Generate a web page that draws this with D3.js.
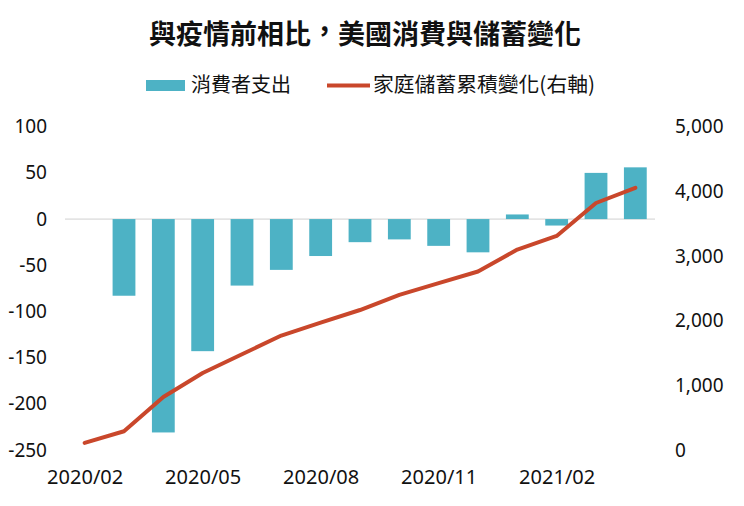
<!DOCTYPE html>
<html>
<head>
<meta charset="utf-8">
<script src="https://cdn.jsdelivr.net/npm/d3@7"></script>
<style>
  html, body { margin: 0; padding: 0; background: #fff; }
  svg { display: block; }
  text { font-family: "Noto Sans CJK TC", "Noto Sans", sans-serif; fill: #111; }
</style>
</head>
<body>
<svg id="chart" width="744" height="506"></svg>
<script>
const titleParts = ["與疫情前相比", "，", "美國消費與儲蓄變化"];
const categories = ["2020/02","2020/03","2020/04","2020/05","2020/06","2020/07","2020/08","2020/09","2020/10","2020/11","2020/12","2021/01","2021/02","2021/03","2021/04"];
const spending = [null, -83, -231, -143, -72, -55, -40, -25, -22, -29, -36, 5, -7, 50, 56];
const savings = [110, 290, 820, 1190, 1480, 1770, 1970, 2165, 2400, 2580, 2760, 3100, 3310, 3820, 4055];
const xTickLabels = ["2020/02","2020/05","2020/08","2020/11","2021/02"];
const leftTicks = [100, 50, 0, -50, -100, -150, -200, -250];
const rightTicks = [0, 1000, 2000, 3000, 4000, 5000];
const seriesNames = ["消費者支出", "家庭儲蓄累積變化(右軸)"];

const barColor = "#4db2c5";
const lineColor = "#c9472b";

const svg = d3.select("#chart");
const plot = { left: 65, right: 655, top: 126.7, bottom: 450 };

const x = d3.scalePoint().domain(categories).range([plot.left, plot.right]).padding(0.5);
const step = x.step();
const barW = step * 0.58;
const yL = d3.scaleLinear().domain([-250, 100]).range([plot.bottom, plot.top]);
const yR = d3.scaleLinear().domain([0, 5000]).range([plot.bottom, plot.top]);

// Title
const t = svg.append("text").attr("x", 365).attr("y", 44).attr("text-anchor", "middle")
  .style("font-size", "27px").style("font-weight", "bold");
t.append("tspan").text(titleParts[0]);
t.append("tspan").attr("dy", -3).text(titleParts[1]);
t.append("tspan").attr("dy", 3).text(titleParts[2]);

// Legend
const lg = svg.append("g");
lg.append("rect").attr("x", 146).attr("y", 80).attr("width", 39).attr("height", 11).attr("fill", barColor);
lg.append("text").attr("x", 191).attr("y", 92).style("font-size", "20px").text(seriesNames[0]);
lg.append("line").attr("x1", 327).attr("x2", 370).attr("y1", 85.5).attr("y2", 85.5)
  .attr("stroke", lineColor).attr("stroke-width", 4);
lg.append("text").attr("x", 373).attr("y", 92).style("font-size", "20.8px").text(seriesNames[1]);

// Zero line
svg.append("line").attr("x1", plot.left).attr("x2", plot.right)
  .attr("y1", yL(0)).attr("y2", yL(0)).attr("stroke", "#d0d0d0").attr("stroke-width", 1);

// Bars
svg.append("g").selectAll("rect")
  .data(categories.map((c, i) => ({ c, v: spending[i] })).filter(d => d.v != null))
  .join("rect")
  .attr("x", d => x(d.c) - barW / 2)
  .attr("width", barW)
  .attr("y", d => Math.min(yL(d.v), yL(0)))
  .attr("height", d => Math.abs(yL(d.v) - yL(0)))
  .attr("fill", barColor);

// Line
const line = d3.line().x((d, i) => x(categories[i])).y(d => yR(d));
svg.append("path").datum(savings).attr("d", line)
  .attr("fill", "none").attr("stroke", lineColor).attr("stroke-width", 4)
  .attr("stroke-linejoin", "round").attr("stroke-linecap", "round");

// Left axis labels (plain hyphen minus)
const axL = d3.axisLeft(yL).tickValues(leftTicks).tickSize(0).tickPadding(0).tickFormat(d => String(d));
const gL = svg.append("g").attr("transform", "translate(47,0)").call(axL);
gL.select(".domain").remove();
gL.selectAll("text").style("font-size", "19px").attr("fill", "#111")
  .style("font-family", "'Noto Sans', sans-serif");

// Right axis labels
const axR = d3.axisRight(yR).tickValues(rightTicks).tickSize(0).tickPadding(0).tickFormat(d3.format(","));
const gR = svg.append("g").attr("transform", "translate(675,0)").call(axR);
gR.select(".domain").remove();
gR.selectAll("text").style("font-size", "19px").attr("fill", "#111")
  .style("font-family", "'Noto Sans', sans-serif");

// X labels (every third category)
const axX = d3.axisBottom(x).tickValues(xTickLabels).tickSize(0).tickPadding(0);
const gX = svg.append("g").attr("transform", "translate(0,470)").call(axX);
gX.select(".domain").remove();
gX.selectAll("text").style("font-size", "20px").attr("fill", "#111")
  .style("font-family", "'Noto Sans', sans-serif");
</script>
</body>
</html>
